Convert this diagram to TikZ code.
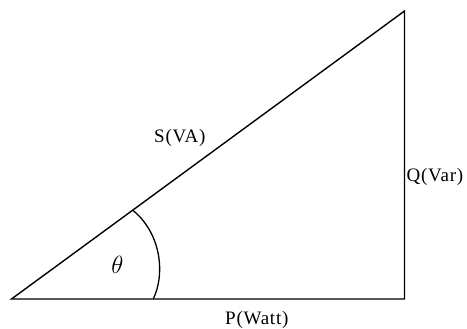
\documentclass[tikz,border=0pt]{standalone}
\usepackage{fontspec}
\setmainfont{Liberation Serif}[LetterSpace=4]
\begin{document}
\begin{tikzpicture}[x=1pt,y=-1pt,
  edge/.style={line width=1.4pt, line join=miter},
  lbl/.style={font=\fontsize{19}{22}\selectfont, inner sep=0pt, anchor=base west}]
\useasboundingbox (0,0) rectangle (467,329);
\coordinate (O) at (11.5,299);
\coordinate (R) at (404.5,299);
\coordinate (T) at (404.5,11);
\coordinate (A) at (153.3,299);
\coordinate (C) at (132.5,210);
\draw[edge] (O) -- (R) -- (T) -- cycle;
\draw[line width=1.3pt] (A) .. controls (166,272) and (160,232) .. (C);
\node[lbl] (s) at (154,143) {S(VA)};
\node[lbl] (q) at (406.5,181.5) {Q(Var)};
\node[lbl] (p) at (225,324) {P(Watt)};
\node[inner sep=0pt, font=\fontsize{30}{34}\selectfont] (th) at (117.5,265) {$\theta$};
\end{tikzpicture}
\end{document}
